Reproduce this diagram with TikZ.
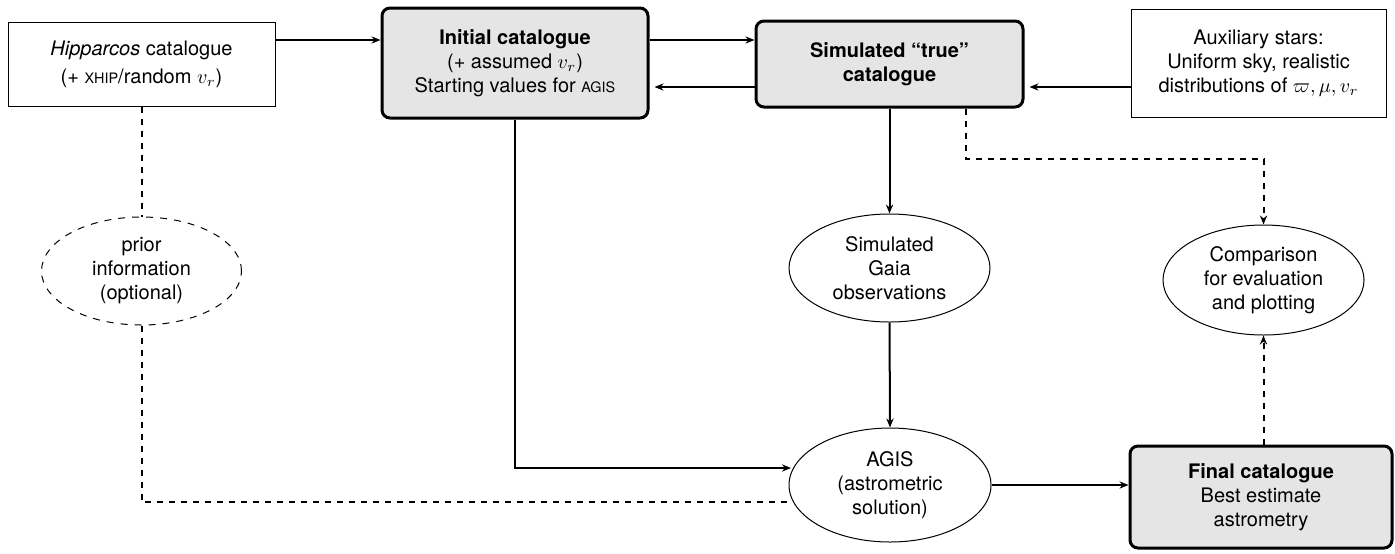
\documentclass[tikz,border=0pt]{standalone}
\usepackage{fontspec}
\setmainfont{TeX Gyre Heros}
\usetikzlibrary{shapes.geometric,arrows.meta}
\newcommand{\fsc}[1]{{\fontsize{7.2}{9}\selectfont #1}}
\tikzset{
 whitebox/.style={draw, line width=0.5pt, fill=white, inner sep=0pt, align=center},
 graybox/.style={draw, line width=1.5pt, fill=gray!20, rounded corners=4pt, inner sep=0pt, align=center},
 ell/.style={ellipse, draw, line width=0.5pt, inner sep=0pt, align=center},
 dell/.style={ell, dash pattern=on 3.5pt off 3.5pt},
 arr/.style={line width=1pt, -{Stealth[length=4.5pt,width=3.6pt]}},
 ln/.style={line width=1pt},
 dsh/.style={line width=1pt, dash pattern=on 3pt off 3pt},
 darr/.style={dsh, -{Stealth[length=4.5pt,width=3.6pt]}},
}
\begin{document}
\begin{tikzpicture}[x=0.5pt, y=-0.5pt, font=\fontsize{10}{12}\selectfont]
\useasboundingbox (0,0) rectangle (1395,553);

\node[whitebox, minimum width=133.5pt, minimum height=42pt] (hip) at (141.5,64)
  {\textit{Hipparcos} catalogue\\[2pt](+ \fsc{XHIP}/random $v_r$)};
\node[graybox, minimum width=133pt, minimum height=55pt] (init) at (515,63)
  {\textbf{Initial catalogue}\\(+ assumed $v_r$)\\Starting values for \fsc{AGIS}};
\node[graybox, minimum width=133.5pt, minimum height=43pt] (sim) at (889.5,64)
  {\textbf{Simulated ``true''}\\\textbf{catalogue}};
\node[whitebox, minimum width=127.5pt, minimum height=54pt] (aux) at (1258.5,63)
  {Auxiliary stars:\\Uniform sky, realistic\\distributions of $\varpi,\mu,v_r$};
\node[dell, minimum width=100pt, minimum height=54pt] (prior) at (141.5,271)
  {prior\\information\\(optional)};
\node[ell, minimum width=100.5pt, minimum height=54pt] (gaia) at (889.5,268)
  {Simulated\\Gaia\\observations};
\node[ell, minimum width=100.5pt, minimum height=55pt] (comp) at (1263.5,280)
  {Comparison\\for evaluation\\and plotting};
\node[ell, minimum width=101pt, minimum height=57pt] (agis) at (890,485)
  {AGIS\\(astrometric\\solution)};
\node[graybox, minimum width=131pt, minimum height=51pt] (final) at (1261,497)
  {\textbf{Final catalogue}\\Best estimate\\astrometry};

\coordinate (yA) at (0,40);
\coordinate (yB) at (0,87);
\coordinate (yC) at (0,468);
\coordinate (yD) at (0,502);
\coordinate (yE) at (0,159);
\coordinate (xE) at (966,0);
\coordinate (xC) at (791,0);
\coordinate (xD) at (788,0);

\draw[arr] (hip.east |- yA) -- (init.west |- yA);
\draw[arr] (init.east |- yA) -- (sim.west |- yA);
\draw[arr, shorten >=2.5pt] (sim.west |- yB) -- (init.east |- yB);
\draw[arr, shorten >=2.5pt] (aux.west |- yB) -- (sim.east |- yB);
\draw[arr] (init.south) -- (init.south |- yC) -- (xC |- yC);
\draw[arr] (sim.south) -- (gaia.north);
\draw[arr] (gaia.south) -- (agis.north);
\draw[arr] (agis.east) -- (final.west |- agis.east);
\draw[dsh] (hip.south) -- (prior.north);
\draw[dsh] (prior.south) -- (prior.south |- yD) -- (xD |- yD);
\draw[darr] (xE |- sim.south) -- (xE |- yE) -- (comp.north |- yE) -- (comp.north);
\draw[darr] (comp.south |- final.north) -- (comp.south);
\end{tikzpicture}
\end{document}
